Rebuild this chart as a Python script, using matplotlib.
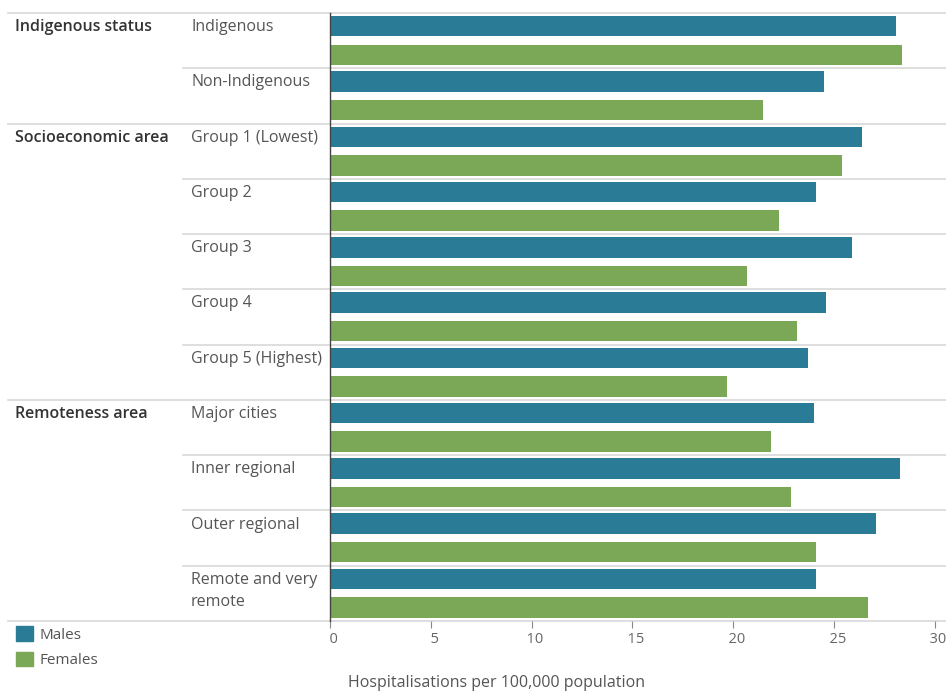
import matplotlib.pyplot as plt
from matplotlib.patches import Patch

plt.rcParams['font.family'] = ['Open Sans', 'DejaVu Sans']

groups = ['Indigenous status', 'Socioeconomic area', 'Remoteness area']
group_sizes = [2, 5, 4]
categories = [
    'Indigenous', 'Non-Indigenous',
    'Group 1 (Lowest)', 'Group 2', 'Group 3', 'Group 4', 'Group 5 (Highest)',
    'Major cities', 'Inner regional', 'Outer regional', 'Remote and very\nremote',
]
males = [28.1, 24.5, 26.4, 24.1, 25.9, 24.6, 23.7, 24.0, 28.3, 27.1, 24.1]
females = [28.4, 21.5, 25.4, 22.3, 20.7, 23.2, 19.7, 21.9, 22.9, 24.1, 26.7]
ticks = [0, 5, 10, 15, 20, 25, 30]

BLUE = '#2a7b96'
GREEN = '#7aa856'
GRID = '#d8d8d8'

W, H = 946, 693
fig = plt.figure(figsize=(W / 100, H / 100), dpi=100)
left, right, top, bottom = 330, 946, 13, 621
ax = fig.add_axes([left / W, 1 - bottom / H, (right - left) / W, (bottom - top) / H])

n = len(categories)
ypos = list(range(n))
ax.barh([y + 0.24 for y in ypos], males, height=0.37, color=BLUE, zorder=2)
ax.barh([y + 0.755 for y in ypos], females, height=0.37, color=GREEN, zorder=2)

ax.set_ylim(n, 0)
ax.set_xlim(0, 30.57)
ax.set_yticks([])
ax.set_xticks(ticks)
ax.set_xticklabels([f'  {t}' for t in ticks])
ax.tick_params(axis='x', length=5, color='#888888', labelcolor='#666666', labelsize=10.5, pad=3)

for s in ['top', 'right']:
    ax.spines[s].set_visible(False)
ax.spines['bottom'].set_visible(False)
ax.spines['left'].set_color('#444444')
ax.spines['left'].set_linewidth(1)

trans = ax.get_yaxis_transform()
group_x = (8 - left) / (right - left)
cat_x = (183 - left) / (right - left)

# separators
starts = [0]
for g in group_sizes:
    starts.append(starts[-1] + g)
for i in range(n + 1):
    x0 = group_x if i in starts else cat_x
    ax.plot([x0, 1], [i, i], color=GRID, lw=1.2, transform=trans, clip_on=False, zorder=1)

# labels
for i, c in enumerate(categories):
    ax.text((191 - left) / (right - left), i + 0.11, c, transform=trans, ha='left', va='top',
            fontsize=11.5, color='#555555', linespacing=1.5)
for g, s in zip(groups, starts):
    ax.text((15 - left) / (right - left), s + 0.11, g, transform=trans, ha='left', va='top',
            fontsize=11.5, color='#333333', fontweight='semibold')

fig.text(348 / W, 1 - 683 / H, 'Hospitalisations per 100,000 population', ha='left', va='center',
         fontsize=11.5, color='#555555')

handles = [Patch(color=BLUE, label='Males'), Patch(color=GREEN, label='Females')]
fig.legend(handles=handles, loc='upper left', bbox_to_anchor=(13 / W, 1 - 623 / H), frameon=False,
           handlelength=1.1, handleheight=1.1, handletextpad=0.45, labelspacing=0.6,
           labelcolor='#555555', fontsize=11, borderaxespad=0, borderpad=0.2)

fig.savefig('out.png', dpi=100)
